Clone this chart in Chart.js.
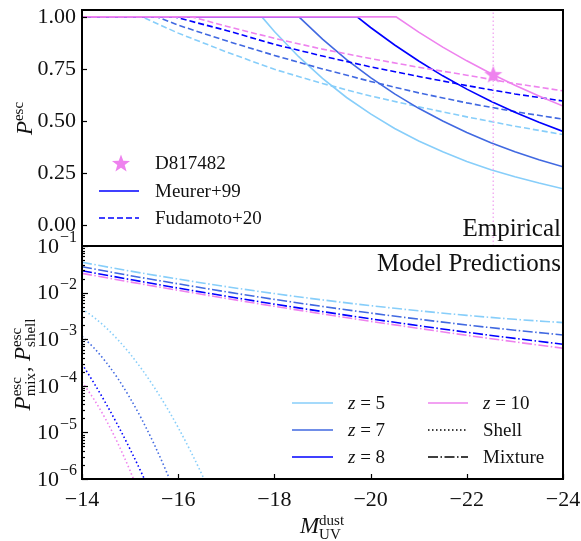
<!DOCTYPE html>
<html>
<head>
<meta charset="utf-8">
<script src="https://cdn.jsdelivr.net/npm/chart.js@4.4.1/dist/chart.umd.min.js"></script>
<style>
  html, body { margin: 0; padding: 0; background: #fff; }
  #wrap { position: relative; width: 581px; height: 541px; }
  #wrap canvas { position: absolute; left: 0; top: 0; }
</style>
</head>
<body>
<div id="wrap">
  <canvas id="escChart" width="581" height="541"></canvas>
  <canvas id="modelChart" width="581" height="541"></canvas>
</div>
<script>
// ---- data ----
const redshifts = ['5', '7', '8', '10'];
const zColors = ['#87CEFA', '#4169E1', '#0000FF', '#EE82EE'];

const xTicks = [-14, -16, -18, -20, -22, -24];
const pTicks = [0, 0.25, 0.5, 0.75, 1];
const logTicks = [1e-6, 1e-5, 1e-4, 1e-3, 1e-2, 1e-1];

// Meurer+99 escape fraction, [M_UV, P_esc]
const meurerZ5 = [[-14, 1], [-17.74, 1], [-18, 0.930], [-18.5, 0.810], [-19, 0.705], [-19.5, 0.613], [-20, 0.534], [-20.5, 0.464], [-21, 0.404], [-21.5, 0.352], [-22, 0.306], [-22.5, 0.266], [-23, 0.232], [-23.5, 0.202], [-24, 0.175]];
const meurerZ7 = [[-14, 1], [-18.51, 1], [-19, 0.893], [-19.5, 0.795], [-20, 0.708], [-20.5, 0.630], [-21, 0.561], [-21.5, 0.500], [-22, 0.445], [-22.5, 0.396], [-23, 0.353], [-23.5, 0.314], [-24, 0.280]];
const meurerZ8 = [[-14, 1], [-19.72, 1], [-20, 0.949], [-20.5, 0.865], [-21, 0.788], [-21.5, 0.717], [-22, 0.653], [-22.5, 0.595], [-23, 0.542], [-23.5, 0.494], [-24, 0.450]];
const meurerZ10 = [[-14, 1], [-20.53, 1], [-21, 0.927], [-21.5, 0.855], [-22, 0.789], [-22.5, 0.728], [-23, 0.672], [-23.5, 0.620], [-24, 0.572]];

// Fudamoto+20 escape fraction, [M_UV, P_esc]
const fudaZ5 = [[-14, 1], [-15.25, 1], [-16, 0.922], [-17, 0.832], [-18, 0.748], [-19, 0.68], [-20, 0.62], [-21, 0.568], [-22, 0.52], [-23, 0.475], [-24, 0.435]];
const fudaZ7 = [[-14, 1], [-15.56, 1], [-16, 0.96], [-17, 0.885], [-18, 0.815], [-19, 0.75], [-20, 0.69], [-21, 0.635], [-22, 0.587], [-23, 0.545], [-24, 0.509]];
const fudaZ8 = [[-14, 1], [-15.93, 1], [-16, 0.995], [-17, 0.935], [-18, 0.868], [-19, 0.812], [-20, 0.76], [-21, 0.714], [-22, 0.67], [-23, 0.63], [-24, 0.596]];
const fudaZ10 = [[-14, 1], [-16.29, 1], [-17, 0.955], [-18, 0.897], [-19, 0.845], [-20, 0.8], [-21, 0.758], [-22, 0.72], [-23, 0.68], [-24, 0.645]];

// D817482
const starM = -22.55;
const starP = 0.725;

// mixture model
const mixM = [-14, -15, -16, -17, -18, -19, -20, -21, -22, -23, -24];
const mixZ5 = [4.47e-2, 2.90e-2, 1.95e-2, 1.34e-2, 9.53e-3, 6.97e-3, 5.25e-3, 4.07e-3, 3.25e-3, 2.67e-3, 2.27e-3];
const mixZ7 = [3.60e-2, 2.32e-2, 1.54e-2, 1.04e-2, 7.15e-3, 5.05e-3, 3.64e-3, 2.69e-3, 2.02e-3, 1.56e-3, 1.23e-3];
const mixZ8 = [2.95e-2, 1.91e-2, 1.25e-2, 8.36e-3, 5.66e-3, 3.91e-3, 2.74e-3, 1.95e-3, 1.41e-3, 1.04e-3, 7.8e-4];
const mixZ10 = [2.59e-2, 1.69e-2, 1.12e-2, 7.50e-3, 5.08e-3, 3.49e-3, 2.42e-3, 1.71e-3, 1.21e-3, 8.75e-4, 6.4e-4];

// shell model
const shellM = [-14, -14.25, -14.5, -14.75, -15, -15.25, -15.5, -15.75, -16, -16.25, -16.5, -16.75];
const shellZ5 = [4.50e-3, 2.94e-3, 1.76e-3, 9.64e-4, 4.84e-4, 2.22e-4, 9.33e-5, 3.60e-5, 1.27e-5, 4.09e-6, 1.21e-6, 3.26e-7];
const shellZ7 = [1.15e-3, 6.47e-4, 3.21e-4, 1.41e-4, 5.43e-5, 1.85e-5, 5.57e-6, 1.48e-6, 3.46e-7];
const shellZ8 = [2.94e-4, 1.14e-4, 4.12e-5, 1.39e-5, 4.35e-6, 1.27e-6, 3.44e-7];
const shellZ10 = [1.21e-4, 5.11e-5, 1.85e-5, 5.69e-6, 1.50e-6, 3.35e-7];

const pMin = -0.1, pMax = 1.033;

// ---- styles ----
const serif = '"Liberation Serif", "Times New Roman", serif';
const ink = '#111';
const DASHED = [6, 3];
const DOTTED = [1.5, 2.5];
const DASHDOT = [10, 2.5, 1.5, 2.5];

function font(size, italic) {
    return (italic ? 'italic ' : '') + size + 'px ' + serif;
}

// filled five point star used as point style
const starImg = (() => {
    const c = document.createElement('canvas');
    c.width = 20; c.height = 20;
    const g = c.getContext('2d');
    g.fillStyle = zColors[3];
    g.beginPath();
    for (let i = 0; i < 10; i++) {
        const r = i % 2 ? 3.9 : 9.5;
        const a = -Math.PI / 2 + i * Math.PI / 5;
        const px = 10 + r * Math.cos(a), py = 10.9 + r * Math.sin(a);
        if (i) g.lineTo(px, py); else g.moveTo(px, py);
    }
    g.closePath();
    g.fill();
    return c;
})();

// text with a stacked superscript / subscript
function mathRun(ctx, items, x, y, draw) {
    let cx = x;
    for (const it of items) {
        if (it.text !== undefined) {
            ctx.font = font(it.size, it.italic);
            if (draw) ctx.fillText(it.text, cx, y);
            cx += ctx.measureText(it.text).width;
        } else {
            ctx.font = font(it.size, false);
            const w1 = ctx.measureText(it.sup).width;
            const w2 = ctx.measureText(it.sub).width;
            if (draw) {
                ctx.fillText(it.sup, cx, y - it.up);
                ctx.fillText(it.sub, cx, y + it.down);
            }
            cx += Math.max(w1, w2) + 1;
        }
    }
    return cx - x;
}

function drawCentered(ctx, items, cx, y) {
    const w = mathRun(ctx, items, 0, 0, false);
    mathRun(ctx, items, cx - w / 2, y, true);
}

function drawRotated(ctx, items, xBase, yCenter) {
    ctx.save();
    ctx.translate(xBase, yCenter);
    ctx.rotate(-Math.PI / 2);
    drawCentered(ctx, items, 0, 0);
    ctx.restore();
}

function drawFrame(chart) {
    const { ctx, chartArea: a } = chart;
    ctx.save();
    ctx.strokeStyle = '#000';
    ctx.lineWidth = 2;
    ctx.strokeRect(a.left, a.top, a.right - a.left, a.bottom - a.top);
    ctx.restore();
}

function legendLine(ctx, x1, x2, y, color, dash) {
    ctx.save();
    ctx.strokeStyle = color;
    ctx.lineWidth = 1.6;
    ctx.setLineDash(dash || []);
    ctx.beginPath();
    ctx.moveTo(x1, y);
    ctx.lineTo(x2, y);
    ctx.stroke();
    ctx.restore();
}

const toXY = pairs => pairs.map(([x, y]) => ({ x, y }));
const zipXY = (xs, ys) => ys.map((y, i) => ({ x: xs[i], y }));

// ---- top panel: empirical relations ----
const meurerSeries = [meurerZ5, meurerZ7, meurerZ8, meurerZ10];
const fudaSeries = [fudaZ5, fudaZ7, fudaZ8, fudaZ10];

const topSets = [];
redshifts.forEach((z, i) => {
    topSets.push({ label: 'Meurer z=' + z, data: toXY(meurerSeries[i]), borderColor: zColors[i], borderWidth: 1.6 });
    topSets.push({ label: 'Fudamoto z=' + z, data: toXY(fudaSeries[i]), borderColor: zColors[i], borderWidth: 1.6, borderDash: DASHED });
});
topSets.push({
    label: 'D817482 M_UV',
    data: [{ x: starM, y: pMin }, { x: starM, y: pMax }],
    borderColor: '#F3B0F3', borderWidth: 1.5, borderDash: [1.5, 2.5]
});
topSets.push({
    label: 'D817482',
    data: [{ x: starM, y: starP }],
    showLine: false, pointStyle: starImg, pointRadius: 9
});
topSets.forEach((d, i) => { d.order = topSets.length - i; });

const topDecor = {
    id: 'topDecor',
    afterDraw(chart) {
        const { ctx, chartArea: a } = chart;
        const y = chart.scales.y;
        drawFrame(chart);
        ctx.save();
        ctx.strokeStyle = '#000';
        ctx.lineWidth = 1.2;
        pTicks.forEach(v => {
            const py = Math.round(y.getPixelForValue(v)) + 0.5;
            ctx.beginPath();
            ctx.moveTo(a.left, py);
            ctx.lineTo(a.left + 5, py);
            ctx.stroke();
        });
        ctx.fillStyle = ink;
        ctx.textBaseline = 'alphabetic';
        ctx.textAlign = 'right';
        ctx.font = font(25);
        ctx.fillText('Empirical', a.right - 2, 236);

        // legend
        ctx.textAlign = 'left';
        ctx.textBaseline = 'middle';
        ctx.drawImage(starImg, 111, 153);
        ctx.font = font(19);
        ctx.fillText('D817482', 155, 164);
        legendLine(ctx, 99, 139, 191, '#0000FF');
        ctx.fillText('Meurer+99', 155, 192);
        legendLine(ctx, 99, 139, 218, '#0000FF', DASHED);
        ctx.fillText('Fudamoto+20', 155, 219);

        ctx.textAlign = 'left';
        ctx.textBaseline = 'alphabetic';
        drawRotated(ctx, [
            { text: 'P', size: 23, italic: true },
            { sup: 'esc', sub: '', up: 9, down: 0, size: 15 }
        ], 32, 118);
        ctx.restore();
    }
};

new Chart(document.getElementById('escChart'), {
    type: 'line',
    data: { datasets: topSets },
    options: {
        responsive: false,
        animation: false,
        events: [],
        layout: { padding: { top: 7, right: 18, bottom: 541 - 246, left: 0 } },
        elements: { point: { radius: 0 }, line: { tension: 0 } },
        plugins: { legend: { display: false }, tooltip: { enabled: false } },
        scales: {
            x: { type: 'linear', min: -24, max: -14, reverse: true, display: false },
            y: {
                type: 'linear', min: pMin, max: pMax,
                grid: { display: false, drawTicks: false },
                border: { display: false },
                ticks: { padding: 6, color: ink, font: { family: serif, size: 22 }, callback: v => v.toFixed(2) },
                afterBuildTicks: s => { s.ticks = pTicks.map(value => ({ value })); },
                afterFit: s => { s.width = 82; s.paddingTop = 0; s.paddingBottom = 0; }
            }
        }
    },
    plugins: [topDecor]
});

// ---- bottom panel: model predictions ----
const mixSeries = [mixZ5, mixZ7, mixZ8, mixZ10];
const shellSeries = [shellZ5, shellZ7, shellZ8, shellZ10];

const bottomSets = [];
redshifts.forEach((z, i) => {
    bottomSets.push({ label: 'Shell z=' + z, data: zipXY(shellM, shellSeries[i]), borderColor: zColors[i], borderWidth: 1.6, borderDash: DOTTED, cubicInterpolationMode: 'monotone' });
    bottomSets.push({ label: 'Mixture z=' + z, data: zipXY(mixM, mixSeries[i]), borderColor: zColors[i], borderWidth: 1.6, borderDash: DASHDOT, cubicInterpolationMode: 'monotone' });
});
bottomSets.forEach((d, i) => { d.order = bottomSets.length - i; });

const bottomDecor = {
    id: 'bottomDecor',
    afterDraw(chart) {
        const { ctx, chartArea: a } = chart;
        const x = chart.scales.x, y = chart.scales.y;
        drawFrame(chart);
        ctx.save();
        ctx.strokeStyle = '#000';
        ctx.lineWidth = 1.2;
        xTicks.forEach(v => {
            const px = Math.round(x.getPixelForValue(v)) + 0.5;
            ctx.beginPath();
            ctx.moveTo(px, a.bottom);
            ctx.lineTo(px, a.bottom - 5);
            ctx.stroke();
        });
        // log ticks, major and minor
        logTicks.forEach((v, i) => {
            const py = Math.round(y.getPixelForValue(v)) + 0.5;
            ctx.beginPath();
            ctx.moveTo(a.left, py);
            ctx.lineTo(a.left + 6, py);
            ctx.stroke();
            if (i < logTicks.length - 1) {
                for (let k = 2; k <= 9; k++) {
                    const my = Math.round(y.getPixelForValue(v * k)) + 0.5;
                    ctx.beginPath();
                    ctx.moveTo(a.left, my);
                    ctx.lineTo(a.left + 3, my);
                    ctx.stroke();
                }
            }
        });
        // log tick labels
        ctx.fillStyle = ink;
        ctx.textBaseline = 'middle';
        ctx.textAlign = 'right';
        logTicks.forEach(v => {
            const py = y.getPixelForValue(v);
            const sup = '\u2212' + Math.round(-Math.log10(v));
            ctx.font = font(16);
            const sw = ctx.measureText(sup).width;
            ctx.fillText(sup, 77, py - 8);
            ctx.font = font(22);
            ctx.fillText('10', 77 - sw - 1, py + 1);
        });

        ctx.textBaseline = 'alphabetic';
        ctx.font = font(25);
        ctx.fillText('Model Predictions', a.right - 2, 271);

        // legend
        ctx.textAlign = 'left';
        const rows = [403, 430, 457];
        const zLabel = (idx, lx, ty) => {
            ctx.font = font(19, true);
            ctx.fillText('z', lx, ty);
            const w = ctx.measureText('z').width;
            ctx.font = font(19);
            ctx.fillText(' = ' + redshifts[idx], lx + w, ty);
        };
        [0, 1, 2].forEach((idx, r) => {
            legendLine(ctx, 292, 333, rows[r], zColors[idx]);
            zLabel(idx, 348, rows[r] + 6);
        });
        legendLine(ctx, 428, 468, rows[0], zColors[3]);
        zLabel(3, 483, rows[0] + 6);
        legendLine(ctx, 428, 468, rows[1], '#000', DOTTED);
        ctx.font = font(19);
        ctx.fillText('Shell', 483, rows[1] + 6);
        legendLine(ctx, 428, 468, rows[2], '#000', DASHDOT);
        ctx.fillText('Mixture', 483, rows[2] + 6);

        // axis titles
        drawCentered(ctx, [
            { text: 'M', size: 23, italic: true },
            { sup: 'dust', sub: 'UV', up: 8, down: 6, size: 15 }
        ], (a.left + a.right) / 2, 533);
        drawRotated(ctx, [
            { text: 'P', size: 23, italic: true },
            { sup: 'esc', sub: 'mix', up: 9, down: 5, size: 15 },
            { text: ', ', size: 22, italic: false },
            { text: 'P', size: 23, italic: true },
            { sup: 'esc', sub: 'shell', up: 9, down: 5, size: 15 }
        ], 30, 364);
        ctx.restore();
    }
};

new Chart(document.getElementById('modelChart'), {
    type: 'line',
    data: { datasets: bottomSets },
    options: {
        responsive: false,
        animation: false,
        events: [],
        layout: { padding: { top: 246, right: 18, bottom: 0, left: 0 } },
        elements: { point: { radius: 0 } },
        plugins: { legend: { display: false }, tooltip: { enabled: false } },
        scales: {
            x: {
                type: 'linear', min: -24, max: -14, reverse: true,
                grid: { display: false, drawTicks: false },
                border: { display: false },
                ticks: { padding: 8, maxRotation: 0, color: ink, font: { family: serif, size: 22 },
                         callback: v => (v < 0 ? '\u2212' : '') + Math.abs(v) },
                afterBuildTicks: s => { s.ticks = xTicks.map(value => ({ value })); },
                afterFit: s => { s.height = 62; s.paddingLeft = 0; s.paddingRight = 0; }
            },
            y: {
                type: 'logarithmic', min: 1e-6, max: 1e-1,
                grid: { display: false, drawTicks: false },
                border: { display: false },
                ticks: { display: false },
                afterFit: s => { s.width = 82; s.paddingTop = 0; s.paddingBottom = 0; }
            }
        }
    },
    plugins: [bottomDecor]
});
</script>
</body>
</html>
